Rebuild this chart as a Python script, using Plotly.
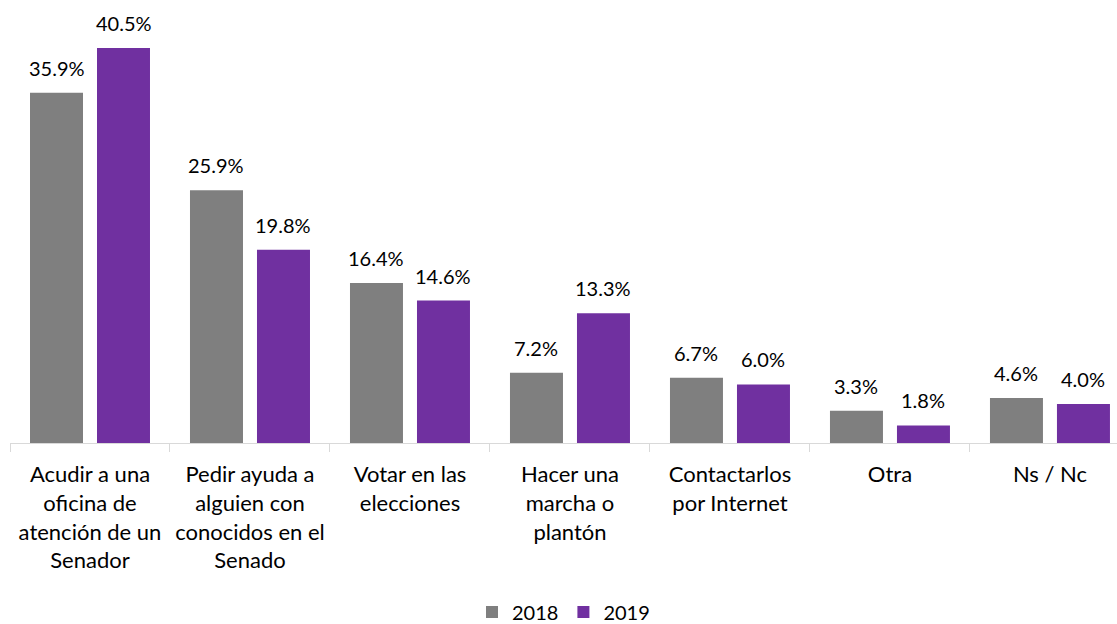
import plotly.graph_objects as go

categories = [
    "Acudir a una<br>oficina de<br>atención de un<br>Senador",
    "Pedir ayuda a<br>alguien con<br>conocidos en el<br>Senado",
    "Votar en las<br>elecciones",
    "Hacer una<br>marcha o<br>plantón",
    "Contactarlos<br>por Internet",
    "Otra",
    "Ns / Nc",
]
values_2018 = [35.9, 25.9, 16.4, 7.2, 6.7, 3.3, 4.6]
values_2019 = [40.5, 19.8, 14.6, 13.3, 6.0, 1.8, 4.0]

FONT = "Lato"
GRAY = "#7F7F7F"
PURPLE = "#7030A0"

fig = go.Figure()
fig.add_trace(go.Bar(name="2018", x=categories, y=values_2018,
                     marker=dict(color=GRAY, line=dict(width=0))))
fig.add_trace(go.Bar(name="2019", x=categories, y=values_2019,
                     marker=dict(color=PURPLE, line=dict(width=0))))

for vals, shift in ((values_2018, -33.5), (values_2019, 33.5)):
    for c, v in zip(categories, vals):
        fig.add_annotation(x=c, y=v, xref="x", yref="y", text=f"{v:.1f}%",
                           showarrow=False, xshift=shift, yshift=11, yanchor="bottom",
                           font=dict(size=20, family=FONT, color="#000000"))

fig.update_layout(
    width=1117, height=624,
    margin=dict(l=10, r=0, t=4, b=181, autoexpand=False),
    paper_bgcolor="white", plot_bgcolor="white",
    barmode="group", bargap=0.1625, bargroupgap=0.209,
    font=dict(family=FONT, size=20, color="#000000"),
    showlegend=True,
    legend=dict(orientation="h", x=0.5, xanchor="center", y=-0.385, yanchor="middle",
                font=dict(size=20, family=FONT), traceorder="normal"),
)
fig.update_xaxes(
    range=[-0.5, 6.419], showline=True, linecolor="#D9D9D9", linewidth=1,
    ticks="outside", tickson="boundaries", ticklen=8, tickcolor="#D9D9D9",
    tickfont=dict(size=22, family=FONT, color="#000000"), showgrid=False,
    ticklabelstandoff=12,
)
fig.update_yaxes(range=[0, 45], visible=False, showgrid=False, zeroline=False)

fig.write_html("out.html", config={"displayModeBar": False},
               post_script="document.body.style.margin='0';document.body.style.overflow='hidden';")
